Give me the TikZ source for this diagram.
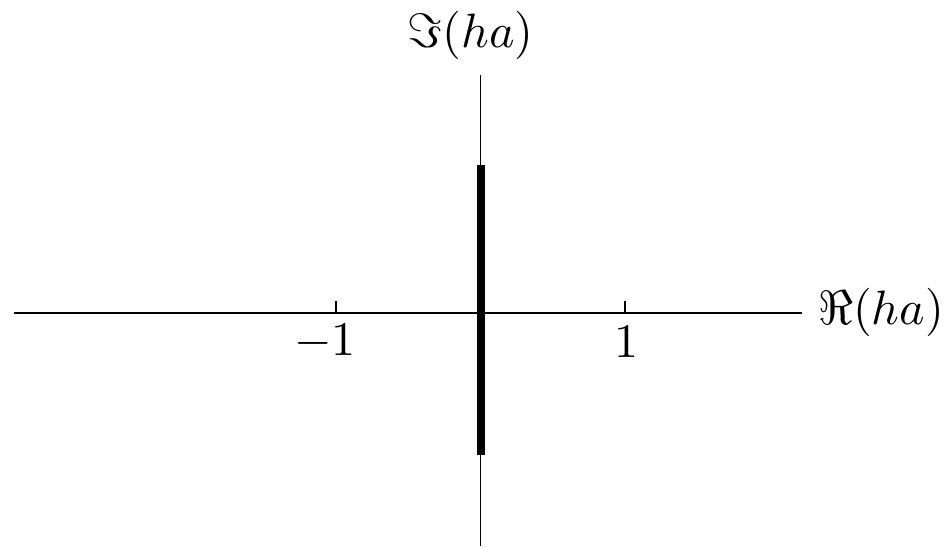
\documentclass[tikz,border=0pt]{standalone}
\begin{document}
\begin{tikzpicture}[x=2cm, y=2cm, line width=0.67pt,
    lbl/.style={scale=1.9, inner sep=0pt}]
    \useasboundingbox (-3.325,-1.615) rectangle (3.221,2.164);
    \draw (-3.228,0) -- (2.227,0);
    \draw (0,-1.615) -- (0,1.645);
    \draw[line width=3.15pt] (0,-0.984) -- (0,1.021);
    \draw (-1,0) -- (-1,0.083);
    \draw (1,0) -- (1,0.083);
    \node[lbl] (mone) at (-1.076,-0.203) {$-1$};
    \node[lbl] (one) at (1.01,-0.203) {$1$};
    \node[lbl] (imag) at (-0.069,1.92) {$\Im(ha)$};
    \node[lbl] (real) at (2.772,0) {$\Re(ha)$};
\end{tikzpicture}
\end{document}
